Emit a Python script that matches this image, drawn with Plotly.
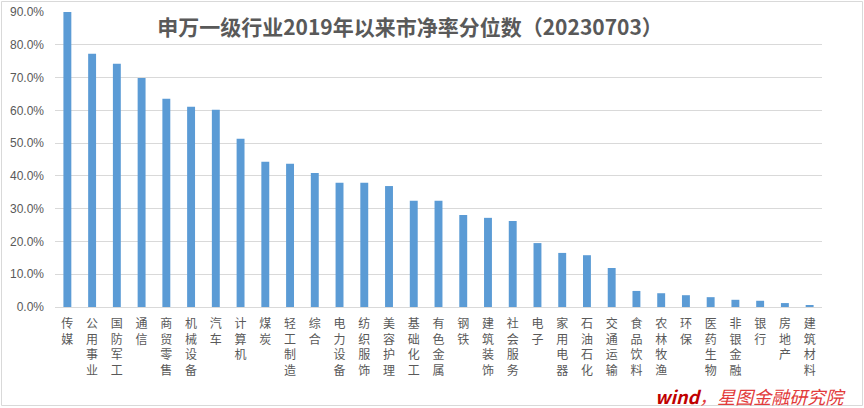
import plotly.graph_objects as go

categories = ["传媒", "公用事业", "国防军工", "通信", "商贸零售", "机械设备", "汽车", "计算机", "煤炭", "轻工制造",
              "综合", "电力设备", "纺织服饰", "美容护理", "基础化工", "有色金属", "钢铁", "建筑装饰", "社会服务", "电子",
              "家用电器", "石油石化", "交通运输", "食品饮料", "农林牧渔", "环保", "医药生物", "非银金融", "银行", "房地产", "建筑材料"]
values = [0.900, 0.773, 0.742, 0.699, 0.635, 0.611, 0.602, 0.513, 0.443, 0.437,
          0.409, 0.379, 0.379, 0.369, 0.324, 0.324, 0.281, 0.272, 0.262, 0.195,
          0.165, 0.158, 0.119, 0.049, 0.042, 0.036, 0.030, 0.022, 0.019, 0.012, 0.006]
title_text = "申万一级行业2019年以来市净率分位数（20230703）"
source_text = "<b>wind</b><span style='color:#e23a3a'>，星图金融研究院</span>"

# vertical labels: one character per line
tick_labels = ["<br>".join(list(c)) for c in categories]

fig = go.Figure(go.Bar(
    x=categories,
    y=values,
    marker=dict(color="#5b9bd5", line=dict(width=0)),
    width=0.32,
))

L, R, T, B = 55, 42, 12, 101
pw = 864 - L - R
ph = 408 - T - B

def px_x(x):
    return (x - L) / pw

def px_y(y):
    return (408 - B - y) / ph

fig.update_layout(
    width=864, height=408,
    margin=dict(l=L, r=R, t=T, b=B, autoexpand=False),
    paper_bgcolor="white", plot_bgcolor="white",
    showlegend=False,
    font=dict(family="Noto Sans CJK SC, sans-serif", color="#595959"),
    title=dict(text=f"<b>{title_text}</b>", x=410 / 864, xanchor="center",
               y=1 - 28 / 408, yanchor="middle",
               font=dict(size=21, color="#595959", family="Noto Sans CJK SC")),
    xaxis=dict(
        tickmode="array", tickvals=categories, ticktext=tick_labels,
        tickangle=0, showgrid=False, showline=False, zeroline=False,
        tickfont=dict(size=12, color="#595959", family="Noto Sans CJK SC"),
        ticks="", ticklabelstandoff=8, automargin=False,
    ),
    yaxis=dict(
        range=[0, 0.9], dtick=0.1, tickformat=".1%",
        showgrid=True, gridcolor="#d9d9d9", gridwidth=1,
        zeroline=True, zerolinecolor="#d9d9d9", zerolinewidth=1,
        showline=False, ticks="", ticklabelstandoff=10, automargin=False,
        tickfont=dict(size=12, color="#595959", family="Liberation Sans, Arial"),
    ),
    shapes=[dict(type="rect", xref="paper", yref="paper",
                 x0=px_x(1.5), x1=px_x(862.5), y0=px_y(405.5), y1=px_y(1.5),
                 line=dict(color="#d9d9d9", width=1), fillcolor="rgba(0,0,0,0)", layer="below")],
    annotations=[dict(text=f"<i>{source_text}</i>", xref="paper", yref="paper",
                      x=px_x(849), y=px_y(396), xanchor="right", yanchor="middle",
                      showarrow=False, borderpad=2,
                      font=dict(size=18, color="#c00000", family="Noto Sans CJK SC"))],
)

fig.write_html("out.html", config={"displayModeBar": False},
               post_script="document.body.style.margin='0';")
